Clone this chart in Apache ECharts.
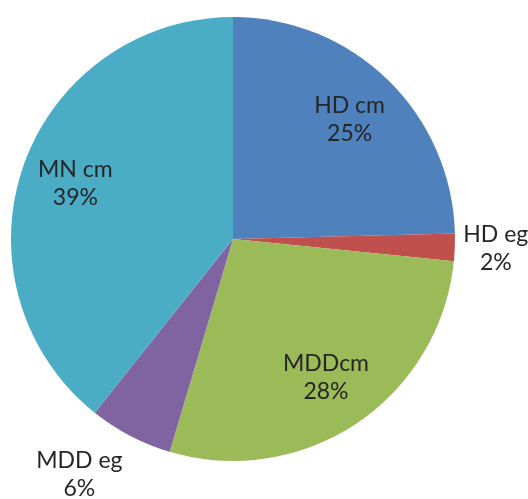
<!DOCTYPE html>
<html>
<head>
<meta charset="utf-8">
<script src="https://cdn.jsdelivr.net/npm/echarts@6/dist/echarts.min.js"></script>
<style>html,body{margin:0;padding:0;background:#fff;}#c{width:528px;height:499px;}</style>
</head>
<body>
<div id="c"></div>
<script>
var categories = ['HD cm', 'HD eg', 'MDDcm', 'MDD eg', 'MN cm'];
var values = [24.6, 2.0, 28.0, 6.1, 39.3];
var colors = ['#4F81BD', '#C0504D', '#9BBB59', '#8064A2', '#4BACC6'];
var outsideLabels = ['HD eg', 'MDD eg'];

var chart = echarts.init(document.getElementById('c'), null, {renderer: 'canvas'});
var fmt = function (p) { return p.name + '\n' + Math.round(p.percent) + '%'; };
var labelStyle = {color: '#262626', fontFamily: 'Lato', fontSize: 23, lineHeight: 28, align: 'center'};

function pieData(showSet, invert) {
  return categories.map(function (n, i) {
    var isOut = outsideLabels.indexOf(n) >= 0;
    var show = invert ? isOut : !isOut;
    var d = {name: n, value: values[i], label: {show: show}};
    if (n === 'MDD eg') d.label.offset = [-32, 2];
    return d;
  });
}

chart.setOption({
  animation: false,
  color: colors,
  series: [
    {
      type: 'pie', center: [233, 239], radius: [0, 222], startAngle: 90, clockwise: true,
      silent: true, label: {show: false}, labelLine: {show: false},
      itemStyle: {borderWidth: 0},
      data: categories.map(function (n, i) { return {name: n, value: values[i]}; })
    },
    {
      type: 'pie', center: [233, 239], radius: [106, 222], startAngle: 90, clockwise: true,
      silent: true, avoidLabelOverlap: false,
      itemStyle: {color: 'rgba(0,0,0,0)', borderWidth: 0},
      label: Object.assign({position: 'inside', formatter: fmt}, labelStyle),
      labelLine: {show: false},
      data: pieData(null, false)
    },
    {
      type: 'pie', center: [233, 239], radius: [222, 298], startAngle: 90, clockwise: true,
      silent: true, avoidLabelOverlap: false,
      itemStyle: {color: 'rgba(0,0,0,0)', borderWidth: 0},
      label: Object.assign({position: 'inside', formatter: fmt}, labelStyle),
      labelLine: {show: false},
      data: pieData(null, true)
    }
  ]
});
</script>
</body>
</html>
